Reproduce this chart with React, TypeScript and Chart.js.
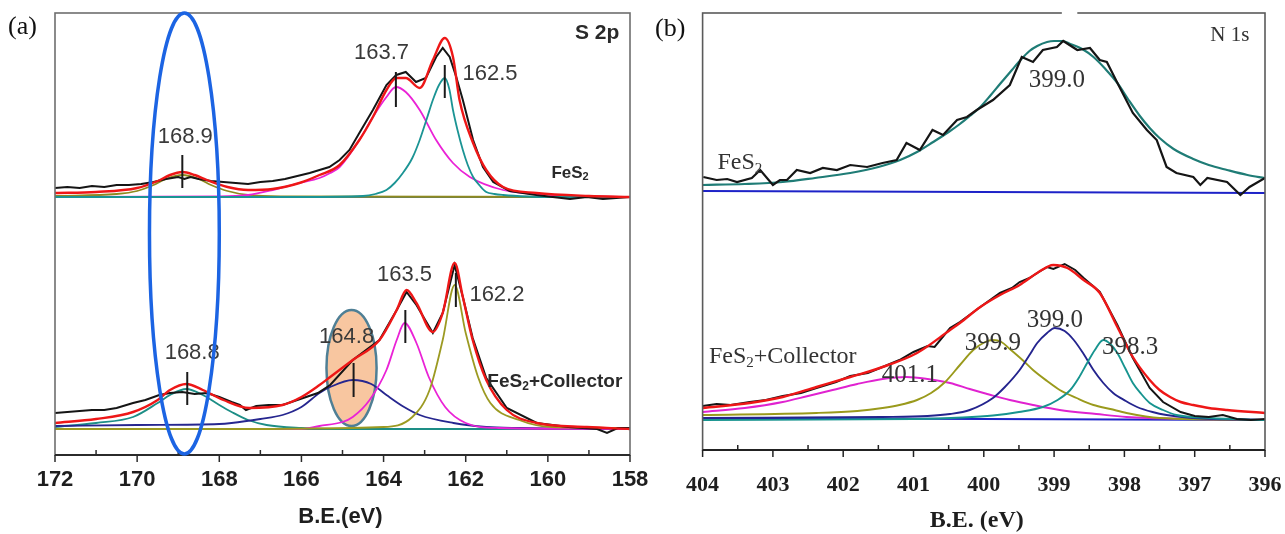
import React, { useEffect, useRef } from 'react';
import { Chart, registerables } from 'chart.js';

Chart.register(...registerables);

// ---------------- Panel (a): S 2p ----------------
const s2pMajorTicks = [172, 170, 168, 166, 164, 162, 160, 158];
const s2pTickLabels = ['172', '170', '168', '166', '164', '162', '160', '158'];
const s2pMinorTicks = [171, 169, 167, 165, 163, 161, 159];

// FeS2 (upper trace)
const s2pTopRawX = [172.0, 171.7, 171.4, 171.1, 170.8, 170.5, 170.2, 169.9, 169.6, 169.3, 169.0, 168.85, 168.7, 168.5, 168.2, 167.9, 167.6, 167.3, 167.0, 166.7, 166.4, 166.1, 165.8, 165.56, 165.32, 165.07, 164.83, 164.59, 164.26, 163.93, 163.69, 163.46, 163.21, 162.97, 162.72, 162.56, 162.39, 162.23, 162.07, 161.82, 161.58, 161.33, 160.93, 160.28, 159.88, 159.46, 159.05, 158.66, 158.0];
const s2pTopRawY = [267, 268, 267, 269, 268, 270, 270, 271, 273, 276, 278, 276, 278, 276, 274, 273, 272, 271, 273, 274, 276, 279, 282, 285, 288, 295, 305, 322, 345, 370, 380, 383, 373, 377, 398, 407, 398, 378, 355, 315, 288, 273, 264, 260, 258, 256, 258, 256, 258];
const s2pTopEnvX = [172.0, 171.0, 170.0, 169.5, 169.2, 168.9, 168.6, 168.3, 167.8, 167.3, 166.7, 166.05, 165.56, 165.07, 164.59, 164.26, 163.93, 163.69, 163.46, 163.12, 162.8, 162.51, 162.31, 162.15, 161.82, 161.5, 161.09, 160.28, 159.0, 158.0];
const s2pTopEnvY = [262, 263, 267, 274, 280, 283, 280, 275, 268, 265, 266, 272, 280, 290, 315, 338, 365, 377, 377, 367, 395, 417, 398, 355, 312, 285, 268, 262, 259, 258];
const s2pTop1689X = [172.0, 170.5, 170.0, 169.6, 169.3, 168.9, 168.5, 168.2, 167.8, 167.3, 166.5, 158.0];
const s2pTop1689Y = [259, 261, 264, 270, 276, 280, 276, 270, 264, 260, 258.5, 258];
const s2pTop1637X = [172.0, 168.0, 167.3, 166.7, 166.05, 165.56, 165.3, 165.07, 164.59, 164.26, 163.93, 163.7, 163.46, 163.12, 162.72, 162.31, 161.9, 161.09, 159.88, 158.0];
const s2pTop1637Y = [258, 258.5, 260, 265, 272, 277, 282, 288, 315, 338, 358, 368, 363, 345, 315, 292, 278, 265, 260, 258];
const s2pTop1625X = [172.0, 166.0, 164.5, 164.2, 163.93, 163.73, 163.53, 163.3, 163.12, 162.95, 162.8, 162.65, 162.51, 162.4, 162.31, 162.2, 162.07, 161.95, 161.82, 161.65, 161.5, 161.3, 161.09, 160.5, 160.0, 158.0];
const s2pTop1625Y = [258, 258, 259, 261, 265, 272, 282, 297, 315, 336, 355, 370, 377, 366, 345, 325, 305, 290, 278, 269, 263, 261, 260, 258.5, 258, 258];
const s2pTopBaseX = [172.0, 158.0];
const s2pTopBaseY = [258, 258];

// FeS2 + Collector (lower trace)
const s2pBotRawX = [172.0, 171.7, 171.4, 171.1, 170.8, 170.5, 170.1, 169.8, 169.46, 169.2, 168.9, 168.6, 168.3, 168.0, 167.7, 167.5, 167.35, 167.1, 166.8, 166.46, 166.1, 165.6, 165.3, 164.75, 164.1, 163.68, 163.44, 163.2, 162.8, 162.56, 162.27, 162.07, 161.83, 161.5, 161.0, 160.27, 159.5, 158.8, 158.56, 158.3, 158.0];
const s2pBotRawY = [42, 43, 44, 45, 45, 47, 52, 55, 60, 62, 63, 61, 62, 58, 53, 50, 45, 49, 50, 50, 55, 62, 70, 95, 115, 145, 163, 150, 122, 142, 190, 158, 117, 77, 47, 32, 28, 26, 22, 27, 27];
const s2pBotEnvX = [172.0, 171.0, 170.1, 169.5, 169.2, 168.8, 168.4, 167.9, 167.27, 166.46, 166.0, 165.56, 165.3, 164.75, 164.1, 163.68, 163.44, 163.2, 162.8, 162.56, 162.27, 162.07, 161.83, 161.5, 161.0, 160.27, 159.05, 158.0];
const s2pBotEnvY = [32, 36, 43, 55, 65, 71, 65, 55, 47, 50, 58, 70, 78, 95, 115, 145, 165, 152, 123, 142, 192, 158, 115, 75, 45, 32, 28, 26];
const s2pBot1688X = [172.0, 171.0, 170.1, 169.5, 169.2, 168.8, 168.4, 168.0, 167.7, 167.3, 166.85, 166.0, 165.0, 158.0];
const s2pBot1688Y = [28, 32, 38, 52, 60, 66, 60, 50, 43, 35, 30, 27, 26, 26];
const s2pBot1648X = [172.0, 170.0, 168.0, 167.7, 167.0, 166.46, 166.0, 165.56, 165.3, 164.75, 164.3, 163.93, 163.5, 163.12, 162.3, 161.5, 160.7, 158.0];
const s2pBot1648Y = [29, 30, 31, 32, 36, 40, 48, 62, 68, 75, 71, 60, 48, 40, 32, 28, 27, 26];
const s2pBot1635X = [172.0, 166.0, 165.56, 165.0, 164.75, 164.34, 163.93, 163.68, 163.49, 163.2, 162.9, 162.5, 162.0, 161.2, 158.0];
const s2pBot1635Y = [26, 26, 29, 33, 38, 55, 85, 115, 132, 112, 78, 48, 32, 27, 26];
const s2pBot1622X = [172.0, 168.0, 164.0, 163.3, 162.88, 162.56, 162.27, 162.0, 161.7, 161.4, 160.7, 159.9, 158.0];
const s2pBot1622Y = [26, 26, 28, 38, 65, 115, 170, 122, 78, 52, 35, 28, 27];
const s2pBotBaseX = [172.0, 158.0];
const s2pBotBaseY = [26, 26];

const s2pPeakLabels = ['168.9', '163.7', '162.5', '168.8', '164.8', '163.5', '162.2'];
const s2pPeakLabelX = [168.83, 164.05, 161.41, 168.66, 164.9, 163.49, 161.24];
const s2pPeakLabelY = [318, 402, 381, 102, 118, 180, 160];
const s2pMarkerX = [168.9, 163.7, 162.51, 168.78, 164.73, 163.47, 162.24];
const s2pMarkerY0 = [267, 348, 357, 50, 58, 112, 148];
const s2pMarkerY1 = [300, 383, 390, 83, 92, 145, 182];

// ---------------- Panel (b): N 1s ----------------
const n1sMajorTicks = [404, 403, 402, 401, 400, 399, 398, 397, 396];
const n1sTickLabels = ['404', '403', '402', '401', '400', '399', '398', '397', '396'];
const n1sMinorTicks = [403.5, 402.5, 401.5, 400.5, 399.5, 398.5, 397.5, 396.5];

const n1sTopRawX = [403.99, 403.8, 403.65, 403.51, 403.3, 403.18, 403.0, 402.9, 402.8, 402.66, 402.47, 402.29, 402.09, 401.9, 401.66, 401.44, 401.24, 401.1, 400.91, 400.73, 400.58, 400.38, 400.24, 400.1, 399.87, 399.63, 399.46, 399.3, 399.16, 398.96, 398.87, 398.67, 398.49, 398.35, 398.25, 398.07, 397.88, 397.68, 397.54, 397.4, 397.26, 397.02, 396.92, 396.82, 396.54, 396.35, 396.22, 396.0];
const n1sTopRawY = [273, 270, 271, 268, 272, 280, 265, 270, 270, 280, 277, 282, 280, 285, 283, 287, 290, 307, 300, 320, 315, 330, 333, 340, 350, 365, 393, 388, 400, 403, 409, 400, 402, 390, 388, 363, 337, 320, 310, 283, 277, 273, 265, 272, 268, 255, 263, 272];
const n1sTopFitX = [404.0, 403.4, 402.86, 402.4, 401.9, 401.5, 401.19, 400.95, 400.72, 400.5, 400.34, 400.2, 400.05, 399.9, 399.77, 399.6, 399.49, 399.35, 399.24, 399.1, 399.0, 398.88, 398.77, 398.6, 398.44, 398.27, 398.1, 397.94, 397.78, 397.64, 397.5, 397.3, 397.02, 396.8, 396.54, 396.25, 396.0];
const n1sTopFitY = [265, 266, 268, 272, 277, 283, 290, 298, 308, 318, 326, 334, 343, 355, 366, 380, 389, 399, 404, 408, 409, 409, 406, 401, 393, 381, 367, 350, 334, 322, 312, 301, 291, 285, 280, 275, 272];
const n1sTopBaseX = [404.0, 396.0];
const n1sTopBaseY = [259, 257];

const n1sBotRawX = [404.0, 403.8, 403.6, 403.33, 403.1, 402.86, 402.6, 402.38, 402.1, 401.9, 401.65, 401.44, 401.2, 401.0, 400.8, 400.7, 400.48, 400.34, 400.05, 399.77, 399.6, 399.49, 399.35, 399.24, 399.1, 399.01, 398.85, 398.7, 398.58, 398.35, 398.1, 397.88, 397.64, 397.45, 397.2, 397.0, 396.8, 396.6, 396.4, 396.2, 396.0];
const n1sBotRawY = [44, 46, 45, 48, 50, 54, 57, 62, 68, 74, 77, 83, 90, 98, 104, 103, 122, 128, 143, 157, 162, 168, 172, 177, 183, 181, 186, 180, 172, 158, 125, 92, 62, 48, 38, 34, 33, 35, 31, 30, 31];
const n1sBotEnvX = [404.0, 403.33, 402.86, 402.38, 401.9, 401.44, 400.95, 400.48, 400.34, 400.05, 399.77, 399.49, 399.24, 399.01, 398.81, 398.58, 398.35, 398.1, 397.88, 397.64, 397.5, 397.35, 397.2, 397.02, 396.8, 396.54, 396.0];
const n1sBotEnvY = [42, 47, 53, 63, 73, 83, 97, 120, 127, 143, 155, 165, 177, 185, 182, 170, 157, 123, 93, 70, 60, 53, 48, 45, 42, 40, 37];
const n1sBot4011X = [404.0, 403.4, 402.86, 402.5, 402.15, 401.8, 401.44, 401.1, 400.8, 400.48, 400.2, 399.9, 399.63, 399.3, 398.92, 398.4, 397.97, 397.02, 396.0];
const n1sBot4011Y = [38, 42, 48, 54, 60, 66, 71, 73, 71, 67, 61, 55, 50, 45, 40, 36, 33, 31, 30];
const n1sBot3999X = [404.0, 402.38, 401.8, 401.44, 401.2, 400.95, 400.75, 400.55, 400.34, 400.15, 399.98, 399.87, 399.75, 399.63, 399.45, 399.3, 399.1, 398.92, 398.68, 398.44, 398.2, 397.97, 397.5, 396.0];
const n1sBot3999Y = [35, 37, 39, 42, 45, 50, 57, 68, 85, 100, 108, 110, 108, 101, 90, 80, 69, 60, 52, 45, 41, 37, 32, 30];
const n1sBot3990X = [404.0, 401.44, 400.8, 400.48, 400.2, 399.87, 399.7, 399.49, 399.35, 399.24, 399.1, 398.99, 398.85, 398.72, 398.58, 398.44, 398.3, 398.16, 397.98, 397.82, 397.6, 397.4, 397.02, 396.0];
const n1sBot3990Y = [32, 33, 34, 36, 40, 52, 63, 80, 95, 107, 117, 122, 119, 110, 96, 80, 67, 57, 49, 43, 38, 35, 32, 30];
const n1sBot3983X = [404.0, 401.0, 400.3, 399.87, 399.5, 399.16, 398.95, 398.77, 398.65, 398.53, 398.42, 398.3, 398.2, 398.1, 397.99, 397.88, 397.76, 397.64, 397.45, 397.26, 396.79, 396.0];
const n1sBot3983Y = [30, 31, 32.5, 34.5, 38, 43, 50, 60, 72, 87, 100, 110, 106, 97, 82, 67, 56, 47, 40, 35, 32, 30];
const n1sBotBaseX = [404.0, 396.0];
const n1sBotBaseY = [32, 30];

const n1sPeakLabels = ['399.0', '401.1', '399.9', '399.0', '398.3'];
const n1sPeakLabelX = [398.96, 401.05, 399.87, 398.99, 397.92];
const n1sPeakLabelY = [370, 75, 107, 130, 103];

// ---------------- helpers ----------------
const SANS = '"Liberation Sans", Arial, Helvetica, sans-serif';
const SERIF = '"Liberation Serif", "Times New Roman", Times, serif';

function line(xs: number[], ys: number[], color: string, width: number, smooth: boolean) {
  return {
    type: 'line' as const,
    data: xs.map((x, i) => ({ x, y: ys[i] })),
    borderColor: color,
    backgroundColor: color,
    borderWidth: width,
    pointRadius: 0,
    fill: false,
    tension: 0,
    cubicInterpolationMode: smooth ? ('monotone' as const) : ('default' as const),
  };
}

function drawRich(ctx: CanvasRenderingContext2D, text: string, x: number, y: number, size: number, family: string, weight: string, color: string) {
  const parts = text.split('₂');
  const segs: { t: string; sub: boolean }[] = [];
  parts.forEach((p, i) => {
    if (p) segs.push({ t: p, sub: false });
    if (i < parts.length - 1) segs.push({ t: '2', sub: true });
  });
  const f = (sub: boolean) => `${weight} ${sub ? Math.round(size * 0.62) : size}px ${family}`;
  let w = 0;
  for (const s of segs) { ctx.font = f(s.sub); w += ctx.measureText(s.t).width; }
  let cx = x - w / 2;
  ctx.textAlign = 'left';
  ctx.textBaseline = 'middle';
  ctx.fillStyle = color;
  for (const s of segs) {
    ctx.font = f(s.sub);
    ctx.fillText(s.t, cx, y + (s.sub ? size * 0.25 : 0));
    cx += ctx.measureText(s.t).width;
  }
}

type Oval = { cx: number; cy: number; rx: number; ry: number; fill?: string; stroke: string; width: number };
type Txt = { text: string; x: number; y: number; size: number; family: string; weight: string; color: string };

type Decor = {
  frameColor: string; frameWidth: number; axisColor: string; axisWidth: number;
  major: number[]; majorLabels: string[]; minor: number[];
  tickFont: string; tickColor: string; tickOffset: number;
  title: string; titleFont: string; titleX: number; titleOffset: number;
  tag: string; tagX: number; tagY: number; tagFont: string;
  texts: Txt[];
  markers: { x: number; y0: number; y1: number }[];
  ovalsBelow: Oval[]; ovalsAbove: Oval[];
  topGap?: [number, number];
};

function drawOval(ctx: CanvasRenderingContext2D, chart: any, o: Oval) {
  const xs = chart.scales.x, ys = chart.scales.y;
  const cx = xs.getPixelForValue(o.cx), cy = ys.getPixelForValue(o.cy);
  const rx = Math.abs(xs.getPixelForValue(o.cx + o.rx) - cx);
  const ry = Math.abs(ys.getPixelForValue(o.cy + o.ry) - cy);
  ctx.save();
  ctx.beginPath();
  ctx.ellipse(cx, cy, rx, ry, 0, 0, Math.PI * 2);
  if (o.fill) { ctx.fillStyle = o.fill; ctx.fill(); }
  ctx.strokeStyle = o.stroke; ctx.lineWidth = o.width; ctx.stroke();
  ctx.restore();
}

function decorPlugin(d: Decor) {
  return {
    id: 'decor',
    beforeDraw(chart: any) {
      const ctx = chart.ctx as CanvasRenderingContext2D;
      ctx.save(); ctx.fillStyle = '#ffffff'; ctx.fillRect(0, 0, chart.width, chart.height); ctx.restore();
    },
    beforeDatasetsDraw(chart: any) {
      for (const o of d.ovalsBelow) drawOval(chart.ctx, chart, o);
    },
    afterDatasetsDraw(chart: any) {
      const ctx = chart.ctx as CanvasRenderingContext2D;
      const a = chart.chartArea; const xs = chart.scales.x, ys = chart.scales.y;
      ctx.save();
      // frame
      ctx.strokeStyle = d.frameColor; ctx.lineWidth = d.frameWidth;
      ctx.strokeRect(a.left, a.top, a.right - a.left, a.bottom - a.top);
      if (d.topGap) {
        const g0 = xs.getPixelForValue(d.topGap[0]), g1 = xs.getPixelForValue(d.topGap[1]);
        ctx.fillStyle = '#ffffff';
        ctx.fillRect(Math.min(g0, g1), a.top - 2, Math.abs(g1 - g0), 4);
      }
      ctx.strokeStyle = d.axisColor; ctx.lineWidth = d.axisWidth;
      ctx.beginPath(); ctx.moveTo(a.left, a.bottom); ctx.lineTo(a.right, a.bottom); ctx.stroke();
      // ticks
      ctx.lineWidth = 1.5;
      for (const v of d.major) {
        const px = xs.getPixelForValue(v);
        ctx.beginPath(); ctx.moveTo(px, a.bottom); ctx.lineTo(px, a.bottom + 7); ctx.stroke();
      }
      for (const v of d.minor) {
        const px = xs.getPixelForValue(v);
        ctx.beginPath(); ctx.moveTo(px, a.bottom); ctx.lineTo(px, a.bottom - 5); ctx.stroke();
      }
      ctx.font = d.tickFont; ctx.fillStyle = d.tickColor; ctx.textAlign = 'center'; ctx.textBaseline = 'middle';
      d.major.forEach((v, i) => ctx.fillText(d.majorLabels[i], xs.getPixelForValue(v), a.bottom + d.tickOffset));
      ctx.font = d.titleFont;
      ctx.fillText(d.title, xs.getPixelForValue(d.titleX), a.bottom + d.titleOffset);
      ctx.font = d.tagFont; ctx.textAlign = 'left'; ctx.fillStyle = '#111';
      ctx.fillText(d.tag, d.tagX, d.tagY);
      // markers
      ctx.strokeStyle = '#1a1a1a'; ctx.lineWidth = 2;
      for (const m of d.markers) {
        const px = xs.getPixelForValue(m.x);
        ctx.beginPath(); ctx.moveTo(px, ys.getPixelForValue(m.y0)); ctx.lineTo(px, ys.getPixelForValue(m.y1)); ctx.stroke();
      }
      for (const t of d.texts) drawRich(ctx, t.text, xs.getPixelForValue(t.x), ys.getPixelForValue(t.y), t.size, t.family, t.weight, t.color);
      ctx.restore();
      for (const o of d.ovalsAbove) drawOval(ctx, chart, o);
    },
  };
}

function baseOptions(xmin: number, xmax: number, ymax: number, pad: any) {
  return {
    responsive: false,
    maintainAspectRatio: false,
    devicePixelRatio: 1,
    animation: false as const,
    layout: { padding: pad },
    plugins: { legend: { display: false }, tooltip: { enabled: false }, title: { display: false } },
    elements: { point: { radius: 0 } },
    scales: {
      x: { type: 'linear' as const, min: xmin, max: xmax, reverse: true, display: false },
      y: { type: 'linear' as const, min: 0, max: ymax, display: false },
    },
  };
}

function leftConfig(): any {
  const texts: Txt[] = s2pPeakLabels.map((t, i) => ({ text: t, x: s2pPeakLabelX[i], y: s2pPeakLabelY[i], size: 22, family: SANS, weight: 'normal', color: '#3a3a3a' }));
  texts.push({ text: 'S 2p', x: 158.8, y: 422, size: 21, family: SANS, weight: 'bold', color: '#2a2a2a' });
  texts.push({ text: 'FeS₂', x: 159.46, y: 282, size: 17, family: SANS, weight: 'bold', color: '#2a2a2a' });
  texts.push({ text: 'FeS₂+Collector', x: 159.83, y: 73, size: 19, family: SANS, weight: 'bold', color: '#2a2a2a' });
  const decor: Decor = {
    frameColor: '#6e6e6e', frameWidth: 1.6, axisColor: '#2b2b2b', axisWidth: 2,
    major: s2pMajorTicks, majorLabels: s2pTickLabels, minor: s2pMinorTicks,
    tickFont: `bold 22px ${SANS}`, tickColor: '#1e1e1e', tickOffset: 25,
    title: 'B.E.(eV)', titleFont: `bold 22px ${SANS}`, titleX: 165.05, titleOffset: 62,
    tag: '(a)', tagX: 8, tagY: 27, tagFont: `26px ${SERIF}`,
    texts,
    markers: s2pMarkerX.map((x, i) => ({ x, y0: s2pMarkerY0[i], y1: s2pMarkerY1[i] })),
    ovalsBelow: [{ cx: 164.78, cy: 87, rx: 0.61, ry: 58, fill: '#f8c6a0', stroke: '#4f7f95', width: 2.5 }],
    ovalsAbove: [{ cx: 168.85, cy: 221.5, rx: 0.85, ry: 220.5, stroke: '#1c64e3', width: 3.5 }],
  };
  return {
    type: 'line',
    data: {
      datasets: [
        line(s2pTopEnvX, s2pTopEnvY, '#ee1717', 2.4, true),
        line(s2pTopRawX, s2pTopRawY, '#151515', 2, false),
        line(s2pTop1625X, s2pTop1625Y, '#1b9494', 1.8, true),
        line(s2pTop1637X, s2pTop1637Y, '#ea22d6', 1.8, true),
        line(s2pTop1689X, s2pTop1689Y, '#8f8a1e', 1.8, true),
        line(s2pTopBaseX, s2pTopBaseY, '#3f74a8', 2, false),
        line(s2pBotEnvX, s2pBotEnvY, '#ee1717', 2.4, true),
        line(s2pBotRawX, s2pBotRawY, '#151515', 2, false),
        line(s2pBot1622X, s2pBot1622Y, '#9c9a22', 1.8, true),
        line(s2pBot1635X, s2pBot1635Y, '#ea22d6', 1.8, true),
        line(s2pBot1648X, s2pBot1648Y, '#26268f', 1.8, true),
        line(s2pBot1688X, s2pBot1688Y, '#1d8e86', 1.8, true),
        line(s2pBotBaseX, s2pBotBaseY, '#2f52b8', 2, false),
      ],
    },
    options: baseOptions(158, 172, 442, { left: 55, right: 20, top: 13, bottom: 79 }),
    plugins: [decorPlugin(decor)],
  };
}

function rightConfig(): any {
  const texts: Txt[] = n1sPeakLabels.map((t, i) => ({ text: t, x: n1sPeakLabelX[i], y: n1sPeakLabelY[i], size: 25, family: SERIF, weight: 'normal', color: '#333' }));
  texts.push({ text: 'N 1s', x: 396.5, y: 415, size: 21, family: SERIF, weight: 'normal', color: '#333' });
  texts.push({ text: 'FeS₂', x: 403.47, y: 287, size: 24, family: SERIF, weight: 'normal', color: '#333' });
  texts.push({ text: 'FeS₂+Collector', x: 402.86, y: 93, size: 24, family: SERIF, weight: 'normal', color: '#333' });
  const decor: Decor = {
    frameColor: '#5a5a5a', frameWidth: 1.6, axisColor: '#222', axisWidth: 1.8,
    major: n1sMajorTicks, majorLabels: n1sTickLabels, minor: n1sMinorTicks,
    tickFont: `bold 22px ${SERIF}`, tickColor: '#1e1e1e', tickOffset: 35,
    title: 'B.E. (eV)', titleFont: `bold 24px ${SERIF}`, titleX: 400.1, titleOffset: 71,
    tag: '(b)', tagX: 5, tagY: 29, tagFont: `26px ${SERIF}`,
    texts,
    markers: [],
    ovalsBelow: [], ovalsAbove: [],
    topGap: [398.89, 398.67],
  };
  return {
    type: 'line',
    data: {
      datasets: [
        line(n1sTopRawX, n1sTopRawY, '#151515', 2.2, false),
        line(n1sTopFitX, n1sTopFitY, '#1f7c76', 2.2, true),
        line(n1sTopBaseX, n1sTopBaseY, '#1d22c8', 2.2, false),
        line(n1sBotEnvX, n1sBotEnvY, '#ee1717', 2.4, true),
        line(n1sBotRawX, n1sBotRawY, '#151515', 2, false),
        line(n1sBot3983X, n1sBot3983Y, '#17948f', 1.9, true),
        line(n1sBot3990X, n1sBot3990Y, '#24248e', 1.9, true),
        line(n1sBot3999X, n1sBot3999Y, '#9a9a1c', 1.9, true),
        line(n1sBot4011X, n1sBot4011Y, '#e022d0', 1.9, true),
        line(n1sBotBaseX, n1sBotBaseY, '#1d22c8', 2.2, false),
      ],
    },
    options: baseOptions(396, 404, 437, { left: 52.6, right: 20, top: 13, bottom: 84 }),
    plugins: [decorPlugin(decor)],
  };
}

export default function App() {
  const leftRef = useRef<HTMLCanvasElement>(null);
  const rightRef = useRef<HTMLCanvasElement>(null);
  useEffect(() => {
    const c1 = new Chart(leftRef.current as HTMLCanvasElement, leftConfig());
    const c2 = new Chart(rightRef.current as HTMLCanvasElement, rightConfig());
    return () => { c1.destroy(); c2.destroy(); };
  }, []);
  return (
    <div style={{ position: 'absolute', left: 0, top: 0, width: 1285, height: 534, background: '#fff', overflow: 'hidden' }}>
      <canvas ref={leftRef} width={650} height={534} style={{ position: 'absolute', left: 0, top: 0, width: 650, height: 534 }} />
      <canvas ref={rightRef} width={635} height={534} style={{ position: 'absolute', left: 650, top: 0, width: 635, height: 534 }} />
    </div>
  );
}
